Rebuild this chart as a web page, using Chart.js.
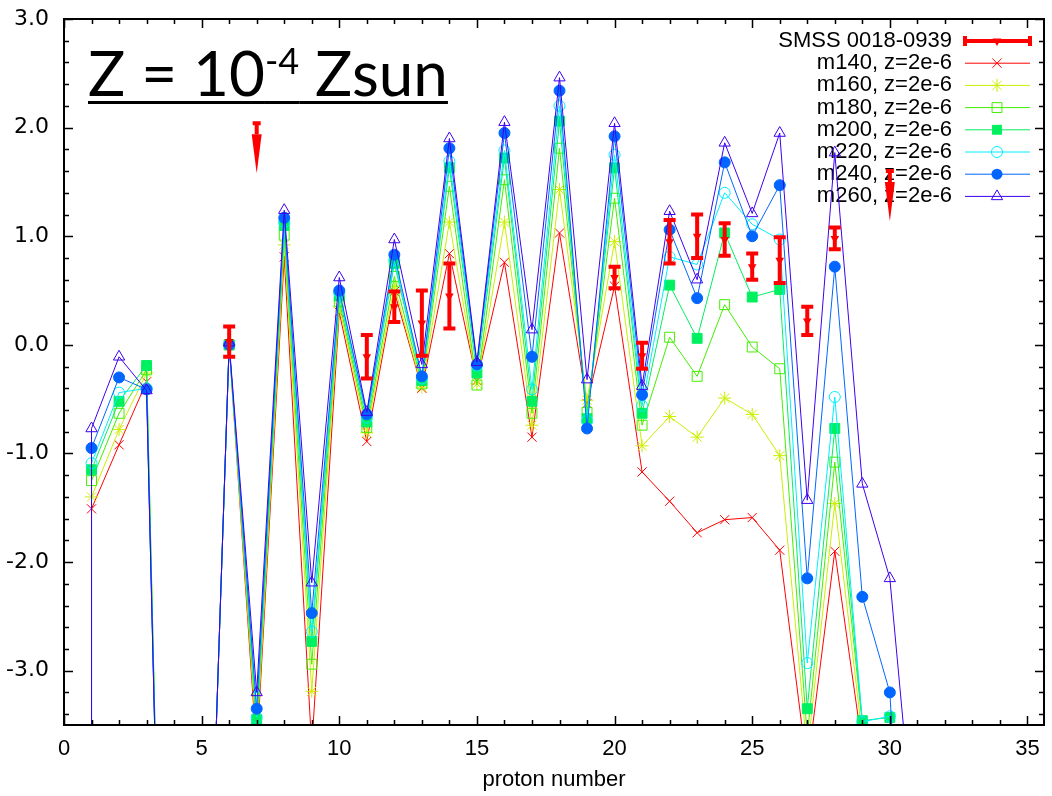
<!DOCTYPE html>
<html>
<head>
<meta charset="utf-8">
<script src="https://cdn.jsdelivr.net/npm/chart.js@4.4.0/dist/chart.umd.min.js"></script>
<style>
    body { margin: 0; background: #fff; }
    #wrap { position: relative; width: 1052px; height: 796px; }
    #title {
        position: absolute; left: 88px; top: 29px;
        font-family: Lato, "Open Sans", sans-serif; font-size: 62px; line-height: 62px;
        color: #000; white-space: nowrap;
        text-decoration: underline; text-decoration-thickness: 3px;
        text-underline-offset: 5px; text-decoration-skip-ink: none;
    }
    #title span { font-size: 36px; vertical-align: 22px; }
</style>
</head>
<body>
<div id="wrap">
    <canvas id="abundanceChart" width="1052" height="796"></canvas>
    <div id="title">Z = 10<span>-4</span> Zsun</div>
</div>
<script>
// proton number of each model point (first point: off-scale drop at Z=1)
const protonZ = [1, 1, 2, 3, 4, 5, 6, 7, 8, 9, 10, 11, 12, 13, 14, 15, 16, 17, 18, 19, 20,
    21, 22, 23, 24, 25, 26, 27, 28, 29, 30, 31];

const m140 = [-12, -1.51, -0.92, -0.34, -11, -7.5, 0.00, -3.75, 0.81, -3.70, 0.30, -0.89, 0.49, -0.40, 0.84, -0.33,
    0.76, -0.85, 1.03, -0.54, 0.54, -1.17, -1.44, -1.73, -1.61, -1.59, -1.89, -3.90, -1.90, -3.70, -4.50, -8];
const m160 = [-12, -1.40, -0.78, -0.26, -11, -7.5, 0.00, -3.65, 0.92, -3.19, 0.35, -0.81, 0.54, -0.39, 1.13, -0.36,
    1.13, -0.74, 1.43, -0.51, 0.95, -0.93, -0.66, -0.85, -0.49, -0.64, -1.02, -3.75, -1.46, -3.60, -4.50, -8];
const m180 = [-12, -1.25, -0.63, -0.23, -11, -7.5, 0.00, -3.55, 1.01, -2.94, 0.40, -0.76, 0.63, -0.36, 1.46, -0.37,
    1.52, -0.63, 1.81, -0.62, 1.35, -0.74, 0.07, -0.29, 0.37, -0.02, -0.22, -3.60, -1.08, -3.49, -4.20, -8];
const m200 = [-12, -1.15, -0.52, -0.19, -11, -7.5, 0.00, -3.45, 1.10, -2.73, 0.45, -0.71, 0.75, -0.33, 1.63, -0.26,
    1.72, -0.52, 2.06, -0.68, 1.63, -0.63, 0.55, 0.06, 1.03, 0.44, 0.51, -3.35, -0.77, -3.46, -3.43, -8];
const m220 = [-12, -1.09, -0.44, -0.40, -11, -7.5, 0.00, -3.43, 1.13, -2.64, 0.48, -0.67, 0.78, -0.31, 1.69, -0.19,
    1.79, -0.41, 2.20, -0.70, 1.75, -0.56, 0.81, 0.74, 1.40, 1.11, 0.97, -2.93, -0.48, -3.47, -3.42, -8];
const m240 = [-12, -0.95, -0.30, -0.41, -11, -7.5, 0.00, -3.35, 1.17, -2.47, 0.50, -0.64, 0.83, -0.29, 1.81, -0.18,
    1.95, -0.11, 2.34, -0.77, 1.92, -0.46, 1.06, 0.43, 1.68, 1.00, 1.47, -2.15, 0.72, -2.32, -3.20, -7.5];
const m260 = [-12, -0.77, -0.11, -0.42, -11, -7.5, 0.02, -3.20, 1.24, -2.19, 0.62, -0.62, 0.97, -0.18, 1.90, -0.16,
    2.05, 0.14, 2.46, -0.32, 2.04, -0.38, 1.23, 0.60, 1.86, 1.21, 1.95, -1.43, 1.77, -1.28, -2.15, -4.9];

// SMSS 0018-0939 measurements
const obsZ = [6, 11, 12, 13, 14, 20, 21, 22, 23, 24, 25, 26, 27, 28];
const obsVal = [0.03, -0.11, 0.35, 0.20, 0.45, 0.62, -0.10, 0.95, 1.00, 0.97, 0.72, 0.78, 0.22, 0.98];
const obsErr = [0.14, 0.20, 0.14, 0.30, 0.30, 0.10, 0.12, 0.20, 0.20, 0.15, 0.12, 0.21, 0.13, 0.10];
// upper limits
const limZ = [7, 30];
const limVal = [2.04, 1.60];

const xTicks = [0, 5, 10, 15, 20, 25, 30, 35];
const yTicks = [-3, -2, -1, 0, 1, 2, 3];

const seriesNames = ['m140, z=2e-6', 'm160, z=2e-6', 'm180, z=2e-6', 'm200, z=2e-6',
    'm220, z=2e-6', 'm240, z=2e-6', 'm260, z=2e-6'];
const seriesValues = [m140, m160, m180, m200, m220, m240, m260];
const seriesColors = ['#ff0000', '#ccee00', '#44ee00', '#00f060', '#00eeff', '#0066ff', '#3c00f0'];
const seriesStyles = ['crossRot', 'star', 'rect', 'rect', 'circle', 'circle', 'triangle'];
const seriesFilled = [false, false, false, true, false, true, false];
const seriesRadius = [6.5, 6.5, 7, 7, 5.5, 5.5, 6.5];
const obsName = 'SMSS 0018-0939';

function drawMarker(ctx, style, x, y, r, color, filled) {
    ctx.save();
    ctx.strokeStyle = color;
    ctx.fillStyle = color;
    ctx.lineWidth = 1;
    ctx.beginPath();
    const d = r * Math.SQRT1_2;
    if (style === 'crossRot' || style === 'star') {
        ctx.moveTo(x - d, y - d); ctx.lineTo(x + d, y + d);
        ctx.moveTo(x - d, y + d); ctx.lineTo(x + d, y - d);
        if (style === 'star') {
            ctx.moveTo(x - r, y); ctx.lineTo(x + r, y);
            ctx.moveTo(x, y - r); ctx.lineTo(x, y + r);
        }
        ctx.stroke();
    } else if (style === 'rect') {
        ctx.rect(x - d, y - d, 2 * d, 2 * d);
        filled ? ctx.fill() : ctx.stroke();
    } else if (style === 'circle') {
        ctx.arc(x, y, r, 0, Math.PI * 2);
        filled ? ctx.fill() : ctx.stroke();
    } else if (style === 'triangle') {
        ctx.moveTo(x, y - r);
        ctx.lineTo(x - r * 0.866, y + r * 0.5);
        ctx.lineTo(x + r * 0.866, y + r * 0.5);
        ctx.closePath();
        filled ? ctx.fill() : ctx.stroke();
    } else if (style === 'down') {
        ctx.moveTo(x, y + r);
        ctx.lineTo(x - r * 0.866, y - r * 0.5);
        ctx.lineTo(x + r * 0.866, y - r * 0.5);
        ctx.closePath();
        ctx.fill();
    }
    ctx.restore();
}

// gnuplot-like key: text right aligned, sample on the right
const keyPlugin = {
    id: 'keyPlugin',
    beforeDatasetsDraw(chart) {
        const ctx = chart.ctx;
        const textRight = 952, x0 = 965, x1 = 1030, xm = 997;
        let rowY = 41;
        ctx.save();
        ctx.font = '22px "Liberation Sans", Arial, sans-serif';
        ctx.fillStyle = '#000';
        ctx.textAlign = 'right';
        ctx.textBaseline = 'middle';
        ctx.fillText(obsName, textRight, rowY);
        ctx.strokeStyle = '#ff0000';
        ctx.lineWidth = 4;
        ctx.beginPath();
        ctx.moveTo(x0, rowY); ctx.lineTo(x1, rowY);
        ctx.moveTo(x0, rowY - 5); ctx.lineTo(x0, rowY + 5);
        ctx.moveTo(x1, rowY - 5); ctx.lineTo(x1, rowY + 5);
        ctx.stroke();
        drawMarker(ctx, 'down', xm, rowY, 5, '#ff0000', true);
        seriesNames.forEach((name, i) => {
            rowY += 22.2;
            ctx.fillStyle = '#000';
            ctx.fillText(name, textRight, rowY);
            ctx.strokeStyle = seriesColors[i];
            ctx.lineWidth = 1;
            ctx.beginPath();
            ctx.moveTo(x0, rowY); ctx.lineTo(x1, rowY);
            ctx.stroke();
            drawMarker(ctx, seriesStyles[i], xm, rowY, seriesRadius[i], seriesColors[i], seriesFilled[i]);
        });
        ctx.restore();
    }
};

// error bars and upper-limit arrows for the star
const errorBars = {
    id: 'errorBars',
    afterDatasetsDraw(chart) {
        const { ctx, scales: { x, y } } = chart;
        ctx.save();
        ctx.strokeStyle = '#ff0000';
        ctx.fillStyle = '#ff0000';
        obsZ.forEach((z, i) => {
            const px = x.getPixelForValue(z);
            const top = y.getPixelForValue(obsVal[i] + obsErr[i]);
            const bot = y.getPixelForValue(obsVal[i] - obsErr[i]);
            ctx.lineWidth = 4;
            ctx.beginPath();
            ctx.moveTo(px, top); ctx.lineTo(px, bot);
            ctx.moveTo(px - 6, top); ctx.lineTo(px + 6, top);
            ctx.moveTo(px - 6, bot); ctx.lineTo(px + 6, bot);
            ctx.stroke();
        });
        limZ.forEach((z, i) => {
            const px = x.getPixelForValue(z);
            const top = y.getPixelForValue(limVal[i]);
            const headTop = y.getPixelForValue(limVal[i] - 0.1);
            const tip = y.getPixelForValue(limVal[i] - 0.46);
            ctx.lineWidth = 4;
            ctx.beginPath();
            ctx.moveTo(px - 4, top); ctx.lineTo(px + 4, top);
            ctx.moveTo(px, top); ctx.lineTo(px, headTop);
            ctx.stroke();
            ctx.beginPath();
            ctx.moveTo(px - 5, headTop); ctx.lineTo(px + 5, headTop); ctx.lineTo(px, tip);
            ctx.closePath();
            ctx.fill();
        });
        ctx.restore();
    }
};

// frame with inward ticks on all four sides
const frameTicks = {
    id: 'frameTicks',
    afterDraw(chart) {
        const { ctx, chartArea: a, scales: { x, y } } = chart;
        ctx.save();
        ctx.strokeStyle = '#000';
        ctx.lineWidth = 1.5;
        ctx.beginPath();
        for (let v = 0; v <= 35; v++) {
            const px = Math.round(x.getPixelForValue(v)) + 0.5;
            const len = v % 5 === 0 ? 9 : 5;
            ctx.moveTo(px, a.bottom); ctx.lineTo(px, a.bottom - len);
            ctx.moveTo(px, a.top); ctx.lineTo(px, a.top + len);
        }
        for (let k = -17; k <= 15; k++) {
            const py = Math.round(y.getPixelForValue(k / 5)) + 0.5;
            const len = k % 5 === 0 ? 9 : 5;
            ctx.moveTo(a.left, py); ctx.lineTo(a.left + len, py);
            ctx.moveTo(a.right, py); ctx.lineTo(a.right - len, py);
        }
        ctx.stroke();
        ctx.lineWidth = 2;
        ctx.strokeRect(a.left, a.top, a.right - a.left, a.bottom - a.top);
        ctx.restore();
    }
};

Chart.defaults.font.family = '"Liberation Sans", Arial, sans-serif';
Chart.defaults.font.size = 22;
Chart.defaults.color = '#000';

const datasets = seriesValues.map((vals, i) => ({
    label: seriesNames[i],
    data: protonZ.map((z, j) => ({ x: z, y: vals[j] })),
    showLine: true,
    borderColor: seriesColors[i],
    borderWidth: 1,
    pointStyle: seriesStyles[i],
    pointRadius: seriesRadius[i],
    pointBorderWidth: 1,
    pointBorderColor: seriesColors[i],
    pointBackgroundColor: seriesFilled[i] ? seriesColors[i] : 'rgba(0,0,0,0)',
    order: 7 - i
}));

datasets.push({
    label: obsName,
    data: obsZ.map((z, i) => ({ x: z, y: obsVal[i] })),
    showLine: false,
    pointStyle: 'triangle',
    rotation: 180,
    pointRadius: 5,
    pointBorderWidth: 0,
    pointBackgroundColor: '#ff0000',
    borderColor: '#ff0000',
    order: 0
});

new Chart(document.getElementById('abundanceChart').getContext('2d'), {
    type: 'scatter',
    data: { datasets: datasets },
    options: {
        responsive: false,
        animation: false,
        devicePixelRatio: 1,
        layout: { padding: { top: 19, right: 5, left: 0, bottom: 0 } },
        plugins: { legend: { display: false }, tooltip: { enabled: false } },
        scales: {
            x: {
                type: 'linear',
                min: 0,
                max: 35.6,
                grid: { display: false, drawTicks: false },
                border: { display: false },
                afterBuildTicks: s => { s.ticks = xTicks.map(v => ({ value: v })); },
                afterFit: s => { s.height = 71; s.paddingLeft = 0; s.paddingRight = 0; },
                ticks: { autoSkip: false, maxRotation: 0, padding: 11 },
                title: { display: true, text: 'proton number', padding: { top: 0, bottom: 3 } }
            },
            y: {
                min: -3.5,
                max: 3.0,
                grid: { display: false, drawTicks: false },
                border: { display: false },
                afterBuildTicks: s => { s.ticks = yTicks.map(v => ({ value: v })); },
                afterFit: s => { s.width = 64; s.paddingTop = 0; s.paddingBottom = 0; },
                ticks: {
                    autoSkip: false, padding: 15,
                    font: { family: '"DejaVu Sans", sans-serif', size: 22 },
                    callback: v => v.toFixed(1)
                }
            }
        }
    },
    plugins: [keyPlugin, errorBars, frameTicks]
});
</script>
</body>
</html>
